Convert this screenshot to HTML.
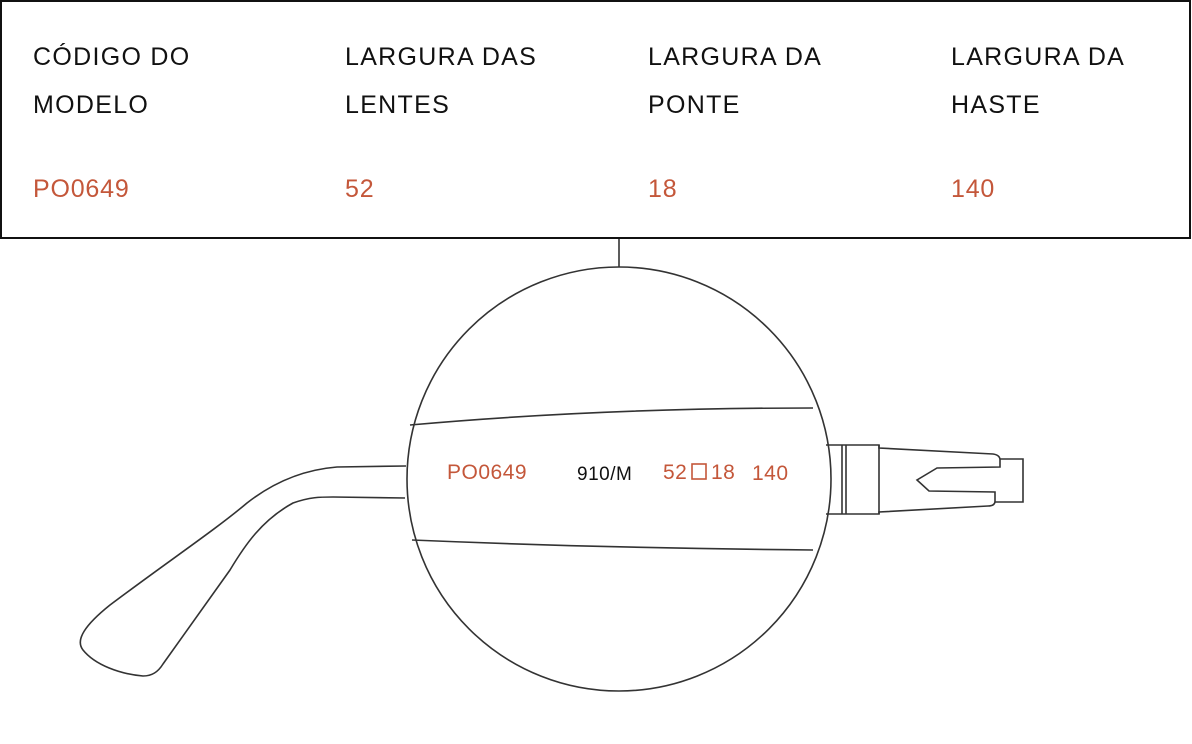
<!DOCTYPE html>
<html><head><meta charset="utf-8"><style>
html,body{margin:0;padding:0;background:#fff;width:1192px;height:744px;overflow:hidden}
svg{display:block}
text{font-family:"Liberation Sans",sans-serif}
</style></head><body>
<svg width="1192" height="744" viewBox="0 0 1192 744">
<rect x="1" y="1" width="1189" height="237" fill="none" stroke="#111" stroke-width="2"/>
<g font-size="25" fill="#111" letter-spacing="1.3">
<text x="33" y="65">CÓDIGO DO</text><text x="33" y="113">MODELO</text>
<text x="345" y="65">LARGURA DAS</text><text x="345" y="113">LENTES</text>
<text x="648" y="65">LARGURA DA</text><text x="648" y="113">PONTE</text>
<text x="951" y="65">LARGURA DA</text><text x="951" y="113">HASTE</text>
</g>
<g font-size="25" fill="#c4573a" letter-spacing="0.8">
<text x="33" y="197">PO0649</text><text x="345" y="197">52</text>
<text x="648" y="197">18</text><text x="951" y="197">140</text>
</g>
<g fill="none" stroke="#333" stroke-width="1.6">
<line x1="619" y1="239" x2="619" y2="267"/>
<circle cx="619" cy="479" r="212"/>
<path d="M410 425 Q600 408 813 408"/>
<path d="M412 540 Q600 548 813 550"/>
<path d="M406 466 L337 467 C300 470 270 485 247 503 C215 530 170 560 110 605 C85 625 75 640 83 650 C95 665 120 674 143 676 C152 676 158 672 163 664 L230 570 C245 545 262 520 293 503 C310 497 320 497 333 497 L405 498"/>
<path d="M826 445 L879 445 L879 448 L993 454 Q1000 455 1000 460 L1000 467 L937 468 L917 480 L929 491 L995 492 L995 501 Q995 506 988 506 L879 512 L879 514 L826 514"/>
<line x1="842" y1="445" x2="842" y2="514"/><line x1="846" y1="445" x2="846" y2="514"/>
<line x1="879" y1="445" x2="879" y2="514"/>
<path d="M1000 459 L1023 459 L1023 502 L995 502"/>
</g>
<g font-size="21" letter-spacing="0.5">
<text x="447" y="479" fill="#c4573a">PO0649</text>
<text x="577" y="480" fill="#111" font-size="19">910/M</text>
<text x="663" y="479" fill="#c4573a">52</text>
<rect x="692" y="464" width="14" height="15" fill="none" stroke="#c4573a" stroke-width="1.6"/>
<text x="711" y="479" fill="#c4573a">18</text>
<text x="752" y="480" fill="#c4573a">140</text>
</g>
</svg>
</body></html>
